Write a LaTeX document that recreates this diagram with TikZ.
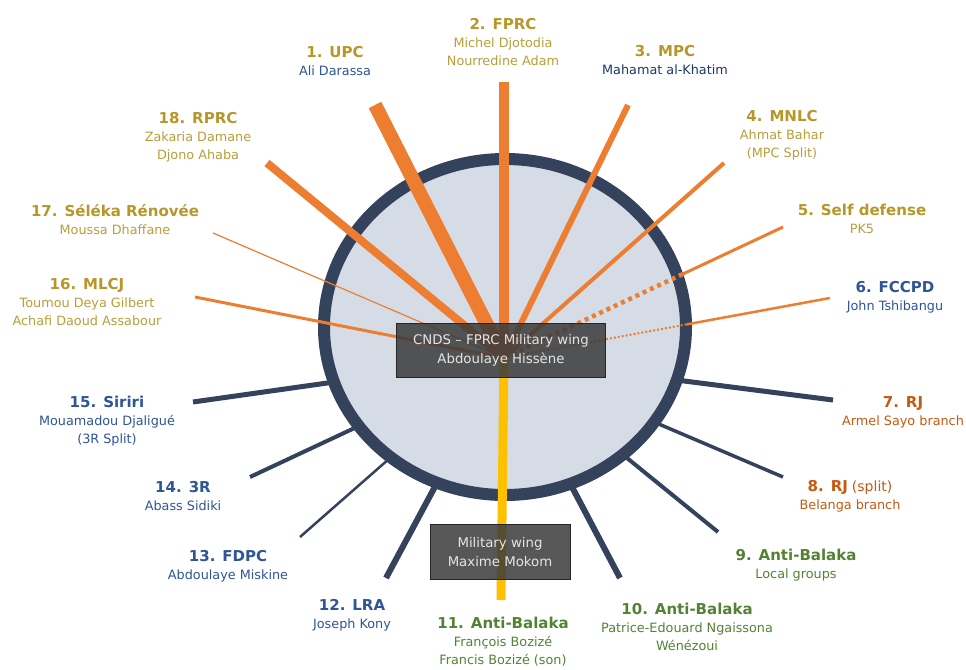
\documentclass[tikz,border=0pt]{standalone}
\usepackage{fontspec}
\setmainfont{DejaVu Sans}
\usepackage{xcolor}
\usetikzlibrary{calc}
\definecolor{spokeorange}{RGB}{237, 125, 49}
\definecolor{spokenavy}{RGB}{52, 66, 92}
\definecolor{ringfill}{RGB}{214, 220, 229}
\definecolor{wingyellow}{RGB}{255, 192, 0}
\definecolor{boxgrey}{RGB}{58, 58, 58}
\definecolor{gtitle}{RGB}{184, 150, 40}
\definecolor{gname}{RGB}{186, 158, 60}
\definecolor{btitle}{RGB}{47, 85, 151}
\definecolor{bname}{RGB}{47, 85, 151}
\definecolor{nname}{RGB}{32, 56, 100}
\definecolor{rjred}{RGB}{197, 90, 17}
\definecolor{abgreen}{RGB}{84, 130, 53}
\newcommand{\ttl}[2]{\textcolor{#1}{\fontsize{15}{20}\selectfont\bfseries #2}}

\begin{document}
\begin{tikzpicture}[x=1pt, y=-1pt,
    grp/.style={align=center, font=\fontsize{12.8}{18}\selectfont, inner sep=0pt},
    hubbox/.style={draw=black!85, fill=boxgrey, fill opacity=0.85, text opacity=1, text=white!90!black, align=center, font=\fontsize{13.3}{19}\selectfont},
    ospoke/.style={draw=spokeorange},
    nspoke/.style={draw=spokenavy},
    ring/.style={draw=spokenavy, fill=ringfill, line width=12}
]
    \fill[white] (0,0) rectangle (966,669);
    \useasboundingbox (0,0) rectangle (966,669);

    \coordinate (mid) at (505,327);
    \coordinate (hub) at (504,358);

    % spoke ends
    \coordinate (upc-end) at (375,105);
    \coordinate (fprc-end) at (504,82);
    \coordinate (mpc-end) at (628,105);
    \coordinate (mnlc-end) at (724,163);
    \coordinate (pk5-end) at (783,227);
    \coordinate (fccpd-end) at (830,298);
    \coordinate (sayo-end) at (833,400);
    \coordinate (belanga-end) at (783,477);
    \coordinate (local-end) at (718,532);
    \coordinate (ngaissona-end) at (620,578);
    \coordinate (bozize-end) at (501,600);
    \coordinate (lra-end) at (386,578);
    \coordinate (fdpc-end) at (300,537);
    \coordinate (threer-end) at (250,477);
    \coordinate (siriri-end) at (193,402);
    \coordinate (mlcj-end) at (195,297);
    \coordinate (seleka-end) at (213,233);
    \coordinate (rprc-end) at (267,163);

    % outside groups
    \draw[nspoke, line width=5] (sayo-end) -- (hub);
    \draw[nspoke, line width=3.5] (belanga-end) -- (hub);
    \draw[nspoke, line width=4] (local-end) -- (hub);
    \draw[nspoke, line width=6] (ngaissona-end) -- (hub);
    \draw[nspoke, line width=6] (lra-end) -- (hub);
    \draw[nspoke, line width=2.5] (fdpc-end) -- (hub);
    \draw[nspoke, line width=4] (threer-end) -- (hub);
    \draw[nspoke, line width=5] (siriri-end) -- (hub);

    \draw[ring] (mid) ellipse [x radius=181, y radius=168];

    % groups linked to the CNDS
    \draw[ospoke, line width=14] (upc-end) -- (hub);
    \draw[ospoke, line width=10] (fprc-end) -- (hub);
    \draw[ospoke, line width=6] (mpc-end) -- (hub);
    \draw[ospoke, line width=4] (mnlc-end) -- (hub);
    \draw[ospoke, line width=8] (rprc-end) -- (hub);
    \draw[ospoke, line width=1.2] (seleka-end) -- (hub);
    \draw[ospoke, line width=3] (mlcj-end) -- (hub);
    \draw[ospoke, line width=4.5, dash pattern=on 4 off 4] ($(pk5-end)!0.36!(hub)$) -- (hub);
    \draw[ospoke, line width=3] (pk5-end) -- ($(pk5-end)!0.36!(hub)$);
    \draw[ospoke, line width=2, dash pattern=on 2 off 2] ($(fccpd-end)!0.44!(hub)$) -- (hub);
    \draw[ospoke, line width=2.5] (fccpd-end) -- ($(fccpd-end)!0.44!(hub)$);
    \draw[draw=wingyellow, line width=9] (hub) -- (bozize-end);

    \node[hubbox, minimum width=209, minimum height=54] (cnds) at (501,350) {CNDS -- FPRC Military wing\\Abdoulaye Hiss\`ene};
    \node[hubbox, minimum width=140, minimum height=55] (mokom) at (500,552) {Military wing\\Maxime Mokom};

    \node[grp, text=bname] (upc) at (335,61) {\ttl{gtitle}{1. UPC}\\Ali Darassa};
    \node[grp, text=gname] (fprc) at (503,42) {\ttl{gtitle}{2. FPRC}\\Michel Djotodia\\Nourredine Adam};
    \node[grp, text=nname] (mpc) at (665,60) {\ttl{gtitle}{3. MPC}\\Mahamat al-Khatim};
    \node[grp, text=gname] (mnlc) at (782,135) {\ttl{gtitle}{4. MNLC}\\Ahmat Bahar\\(MPC Split)};
    \node[grp, text=gname] (pk5) at (862,219) {\ttl{gtitle}{5. Self defense}\\PK5};
    \node[grp, text=bname] (fccpd) at (895,297) {\ttl{btitle}{6. FCCPD}\\John Tshibangu};
    \node[grp, text=rjred] (sayo) at (903,412) {\ttl{rjred}{7. RJ}\\Armel Sayo branch};
    \node[grp, text=rjred] (belanga) at (850,496) {\ttl{rjred}{8. RJ} {\fontsize{14}{20}\selectfont(split)}\\Belanga branch};
    \node[grp, text=abgreen] (local) at (796,565) {\ttl{abgreen}{9. Anti-Balaka}\\Local groups};
    \node[grp, text=abgreen] (ngaissona) at (687,627) {\ttl{abgreen}{10. Anti-Balaka}\\Patrice-Edouard Ngaissona\\W\'en\'ezoui};
    \node[grp, text=abgreen] (bozize) at (503,642) {\ttl{abgreen}{11. Anti-Balaka}\\Fran\c{c}ois Boziz\'e\\Francis Boziz\'e (son)};
    \node[grp, text=bname] (lra) at (352,615) {\ttl{btitle}{12. LRA}\\Joseph Kony};
    \node[grp, text=bname] (fdpc) at (228,566) {\ttl{btitle}{13. FDPC}\\Abdoulaye Miskine};
    \node[grp, text=bname] (threer) at (183,496) {\ttl{btitle}{14. 3R}\\Abass Sidiki};
    \node[grp, text=bname] (siriri) at (107,421) {\ttl{btitle}{15. Siriri}\\Mouamadou Djaligu\'e\\(3R Split)};
    \node[grp, text=gname] (mlcj) at (87,302) {\ttl{gtitle}{16. MLCJ}\\Toumou Deya Gilbert\\Achafi Daoud Assabour};
    \node[grp, text=gname] (seleka) at (115,220) {\ttl{gtitle}{17. S\'el\'eka R\'enov\'ee}\\Moussa Dhaffane};
    \node[grp, text=gname] (rprc) at (198,137) {\ttl{gtitle}{18. RPRC}\\Zakaria Damane\\Djono Ahaba};
\end{tikzpicture}
\end{document}
